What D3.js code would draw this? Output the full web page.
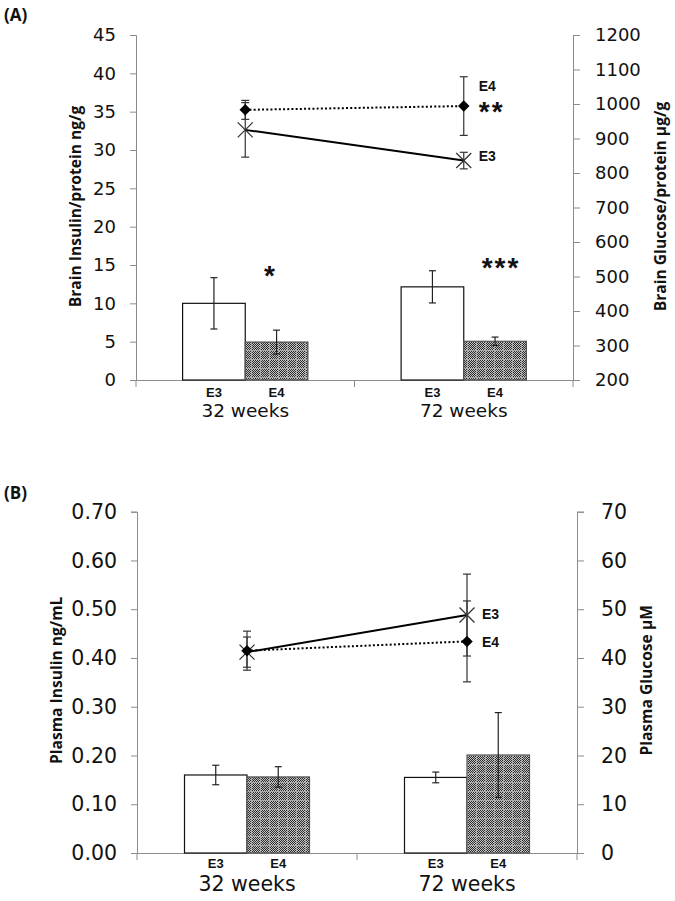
<!DOCTYPE html>
<html><head><meta charset="utf-8">
<script src="https://cdn.jsdelivr.net/npm/d3@7"></script>
<style>
html,body{margin:0;padding:0;background:#fff;}
svg{display:block;}
</style></head>
<body>
<script>
// ---------- DATA ----------
const categories = ["32 weeks", "72 weeks"];
const genotypes = ["E3", "E4"];

// Panel A – brain (bars: insulin, lines: glucose)
const brainInsulinE3 = [10.0, 12.15];
const brainInsulinE3Err = [3.35, 2.1];
const brainInsulinE4 = [4.95, 5.05];
const brainInsulinE4Err = [1.55, 0.55];
const brainGlucoseE3 = [925, 836];
const brainGlucoseE3Err = [79, 24];
const brainGlucoseE4 = [983, 994];
const brainGlucoseE4Err = [27.5, 85];
const brainInsulinTicks = [0, 5, 10, 15, 20, 25, 30, 35, 40, 45];
const brainGlucoseTicks = [200, 300, 400, 500, 600, 700, 800, 900, 1000, 1100, 1200];
const barStarsA = ["*", "***"];

// Panel B – plasma (bars: insulin, lines: glucose)
const plasmaInsulinE3 = [0.160, 0.155];
const plasmaInsulinE3Err = [0.020, 0.011];
const plasmaInsulinE4 = [0.156, 0.201];
const plasmaInsulinE4Err = [0.021, 0.087];
const plasmaGlucoseE3 = [41.2, 48.8];
const plasmaGlucoseE3Err = [3.1, 8.4];
const plasmaGlucoseE4 = [41.5, 43.4];
const plasmaGlucoseE4Err = [4.0, 8.3];
const plasmaInsulinTicks = [0, 0.1, 0.2, 0.3, 0.4, 0.5, 0.6, 0.7];
const plasmaGlucoseTicks = [0, 10, 20, 30, 40, 50, 60, 70];

// ---------- DRAW ----------
const W = 675, H = 901;
const svg = d3.select("body").append("svg").attr("width", W).attr("height", H);

// pattern for E4 bars (fine checker in small blocks)
const defs = svg.append("defs");
const pat = defs.append("pattern").attr("id", "chk").attr("patternUnits", "userSpaceOnUse")
  .attr("width", 9).attr("height", 9);
pat.append("rect").attr("width", 9).attr("height", 9).attr("fill", "#a8a8a8");
for (let i = 0; i < 8; i++) for (let j = 0; j < 8; j++) {
  pat.append("rect").attr("x", i).attr("y", j).attr("width", 1).attr("height", 1)
    .attr("fill", (i + j) % 2 ? "#2a2a2a" : "#c4c4c4");
}

const tickFont = "'DejaVu Sans', Verdana, sans-serif";
const titleFont = "'Open Sans', 'DejaVu Sans', sans-serif";
const boldFont = "'Liberation Sans', Arial, sans-serif";

function panel(cfg) {
  const g = svg.append("g");
  const x = d3.scaleBand().domain(categories).range([cfg.left, cfg.right]).padding(0);
  const bw = x.bandwidth();
  const sub = d3.scaleBand().domain(genotypes).range([0, bw]).paddingInner(0).paddingOuter(cfg.outerPad);
  const yL = d3.scaleLinear().domain(cfg.leftDomain).range([cfg.bottom, cfg.top]);
  const yR = d3.scaleLinear().domain(cfg.rightDomain).range([cfg.bottom, cfg.top]);

  const axL = g.append("g").attr("transform", `translate(${cfg.left},0)`)
    .call(d3.axisLeft(yL).tickValues(cfg.leftTicks).tickFormat(cfg.leftFmt).tickSize(6).tickPadding(cfg.leftPad));
  const axR = g.append("g").attr("transform", `translate(${cfg.right},0)`)
    .call(d3.axisRight(yR).tickValues(cfg.rightTicks).tickFormat(d3.format("d")).tickSize(7).tickPadding(cfg.rightPad));
  [axL, axR].forEach(a => {
    a.select(".domain").attr("stroke", "#8c8c8c");
    a.selectAll(".tick line").attr("stroke", "#8c8c8c");
    a.selectAll(".tick text").attr("fill", "#111").attr("font-family", tickFont).attr("font-size", cfg.tickSize);
  });

  // x axis baseline
  const axX = g.append("g").attr("transform", `translate(0,${cfg.bottom})`)
    .call(d3.axisBottom(d3.scaleLinear().domain([0, 1]).range([cfg.left, cfg.right]))
      .tickValues([]).tickSizeOuter(0));
  axX.select(".domain").attr("stroke", "#8c8c8c");
  const bounds = [cfg.left].concat(categories.map(c => x(c) + bw));
  g.selectAll(".xtick").data(bounds).join("line")
    .attr("x1", d => d).attr("x2", d => d).attr("y1", cfg.bottom).attr("y2", cfg.bottom + 7)
    .attr("stroke", "#8c8c8c");

  // bars
  const barData = [];
  categories.forEach((c, i) => {
    genotypes.forEach((gt, k) => {
      barData.push({ c, gt, v: cfg.bars[k][i], e: cfg.barErr[k][i] });
    });
  });
  g.selectAll(".bar").data(barData).join("rect")
    .attr("x", d => x(d.c) + sub(d.gt))
    .attr("y", d => yL(d.v))
    .attr("width", sub.bandwidth())
    .attr("height", d => yL(0) - yL(d.v))
    .attr("fill", d => d.gt === "E3" ? "#fff" : "url(#chk)")
    .attr("stroke", d => d.gt === "E3" ? "#111" : "#555")
    .attr("stroke-width", 1.2);
  const ebar = g.selectAll(".be").data(barData).join("g")
    .attr("transform", d => `translate(${x(d.c) + sub(d.gt) + sub.bandwidth() / 2},0)`);
  ebar.append("line").attr("y1", d => yL(d.v + d.e)).attr("y2", d => yL(d.v - d.e)).attr("stroke", "#222").attr("stroke-width", 1.2);
  ebar.append("line").attr("x1", -3.5).attr("x2", 3.5).attr("y1", d => yL(d.v + d.e)).attr("y2", d => yL(d.v + d.e)).attr("stroke", "#222").attr("stroke-width", 1.2);
  ebar.append("line").attr("x1", -3.5).attr("x2", 3.5).attr("y1", d => yL(d.v - d.e)).attr("y2", d => yL(d.v - d.e)).attr("stroke", "#222").attr("stroke-width", 1.2);

  // genotype labels under bars
  g.selectAll(".gl").data(barData).join("text")
    .attr("x", d => x(d.c) + sub(d.gt) + sub.bandwidth() / 2)
    .attr("y", cfg.bottom + cfg.gtDy)
    .attr("text-anchor", "middle").attr("font-family", boldFont).attr("font-weight", "bold")
    .attr("font-size", cfg.gtSize).attr("fill", "#111").text(d => d.gt);
  g.selectAll(".cl").data(categories).join("text")
    .attr("x", d => x(d) + bw / 2).attr("y", cfg.bottom + cfg.catDy)
    .attr("text-anchor", "middle").attr("font-family", tickFont).attr("font-size", cfg.catSize)
    .attr("fill", "#111").text(d => d);

  // lines (right axis)
  const cx = c => x(c) + bw / 2;
  const line = d3.line().x(d => cx(d.c)).y(d => yR(d.v));
  const ser = genotypes.map((gt, k) => ({
    gt, pts: categories.map((c, i) => ({ c, v: cfg.lines[k][i], e: cfg.lineErr[k][i] }))
  }));
  ser.forEach(s => {
    s.pts.forEach(p => {
      const eg = g.append("g").attr("transform", `translate(${cx(p.c)},0)`);
      eg.append("line").attr("y1", yR(p.v + p.e)).attr("y2", yR(p.v - p.e)).attr("stroke", "#333").attr("stroke-width", 1.2);
      [p.v + p.e, p.v - p.e].forEach(v => eg.append("line").attr("x1", -4).attr("x2", 4)
        .attr("y1", yR(v)).attr("y2", yR(v)).attr("stroke", "#333").attr("stroke-width", 1.2));
    });
  });
  ser.forEach(s => {
    g.append("path").datum(s.pts).attr("d", line).attr("fill", "none").attr("stroke", "#000")
      .attr("stroke-width", 2).attr("stroke-dasharray", s.gt === "E4" ? "2,2.2" : null);
  });
  ser.forEach(s => {
    s.pts.forEach(p => {
      const px = cx(p.c), py = yR(p.v);
      if (s.gt === "E4") {
        g.append("path").attr("d", d3.symbol(d3.symbolSquare, 66)())
          .attr("transform", `translate(${px},${py}) rotate(45)`).attr("fill", "#000");
      } else {
        g.append("path").attr("d", `M${px - 7.5},${py - 7.5}L${px + 7.5},${py + 7.5}M${px - 7.5},${py + 7.5}L${px + 7.5},${py - 7.5}`)
          .attr("stroke", "#333").attr("stroke-width", 1.3);
      }
    });
  });
  cfg.endLabels.forEach(l => {
    const k = genotypes.indexOf(l.gt);
    g.append("text").attr("x", cx(categories[1]) + l.dx).attr("y", yR(cfg.lines[k][1]) + l.dy)
      .attr("font-family", boldFont).attr("font-weight", "bold").attr("font-size", l.size || 14)
      .attr("fill", "#111").attr("letter-spacing", l.ls || 0).text(l.text);
  });
  (cfg.barStars || []).forEach((s, i) => {
    if (!s) return;
    g.append("text").attr("x", x(categories[i]) + sub("E4") + sub.bandwidth() / 2 + cfg.starDx[i])
      .attr("y", yL(cfg.bars[1][i]) - cfg.starDy[i])
      .attr("text-anchor", "middle").attr("font-family", boldFont).attr("font-weight", "bold")
      .attr("font-size", 28).attr("letter-spacing", 2).attr("fill", "#111").text(s);
  });

  // axis titles
  g.append("text").attr("transform", `translate(${cfg.leftTitleX},${(cfg.top + cfg.bottom) / 2 + cfg.titleDy}) rotate(-90)`)
    .attr("text-anchor", "middle").attr("font-family", titleFont).attr("font-weight", "bold")
    .attr("font-size", cfg.titleSize).attr("fill", "#111").text(cfg.leftTitle);
  g.append("text").attr("transform", `translate(${cfg.rightTitleX},${(cfg.top + cfg.bottom) / 2 + cfg.titleDy}) rotate(-90)`)
    .attr("text-anchor", "middle").attr("font-family", titleFont).attr("font-weight", "bold")
    .attr("font-size", cfg.titleSize).attr("fill", "#111").text(cfg.rightTitle);
  g.append("text").attr("x", 4).attr("y", cfg.letterY).attr("font-family", titleFont).attr("font-weight", "bold")
    .attr("font-size", 17).attr("fill", "#111").text(cfg.letter);
}

panel({
  letter: "(A)", letterY: 21,
  left: 136, right: 573, top: 35, bottom: 380, outerPad: 0.744,
  leftDomain: [0, 45], rightDomain: [200, 1200],
  leftTicks: brainInsulinTicks, rightTicks: brainGlucoseTicks,
  leftFmt: d3.format("d"), tickSize: 18, leftPad: 14, rightPad: 15,
  bars: [brainInsulinE3, brainInsulinE4], barErr: [brainInsulinE3Err, brainInsulinE4Err],
  lines: [brainGlucoseE3, brainGlucoseE4], lineErr: [brainGlucoseE3Err, brainGlucoseE4Err],
  gtDy: 17, gtSize: 13, catDy: 37, catSize: 18.5,
  endLabels: [
    { gt: "E4", text: "E4", dx: 15, dy: -15 },
    { gt: "E4", text: "**", dx: 15, dy: 15, size: 28, ls: 2 },
    { gt: "E3", text: "E3", dx: 15, dy: 0 }
  ],
  barStars: barStarsA, starDx: [-6, 6], starDy: [57, 64],
  leftTitle: "Brain Insulin/protein ng/g", rightTitle: "Brain Glucose/protein µg/g",
  leftTitleX: 81, rightTitleX: 666, titleSize: 15.6, titleDy: -1
});

panel({
  letter: "(B)", letterY: 499,
  left: 137, right: 577, top: 511.7, bottom: 853, outerPad: 0.76,
  leftDomain: [0, 0.7], rightDomain: [0, 70],
  leftTicks: plasmaInsulinTicks, rightTicks: plasmaGlucoseTicks,
  leftFmt: d3.format(".2f"), tickSize: 20.5, leftPad: 14, rightPad: 17,
  bars: [plasmaInsulinE3, plasmaInsulinE4], barErr: [plasmaInsulinE3Err, plasmaInsulinE4Err],
  lines: [plasmaGlucoseE3, plasmaGlucoseE4], lineErr: [plasmaGlucoseE3Err, plasmaGlucoseE4Err],
  gtDy: 15, gtSize: 13, catDy: 38, catSize: 20.5,
  endLabels: [
    { gt: "E3", text: "E3", dx: 15, dy: 4 },
    { gt: "E4", text: "E4", dx: 15, dy: 6 }
  ],
  barStars: [],
  starDx: [0, 0], starDy: [0, 0],
  leftTitle: "Plasma Insulin ng/mL", rightTitle: "Plasma Glucose µM",
  leftTitleX: 62, rightTitleX: 652, titleSize: 15.6, titleDy: -2
});
</script>
</body></html>
